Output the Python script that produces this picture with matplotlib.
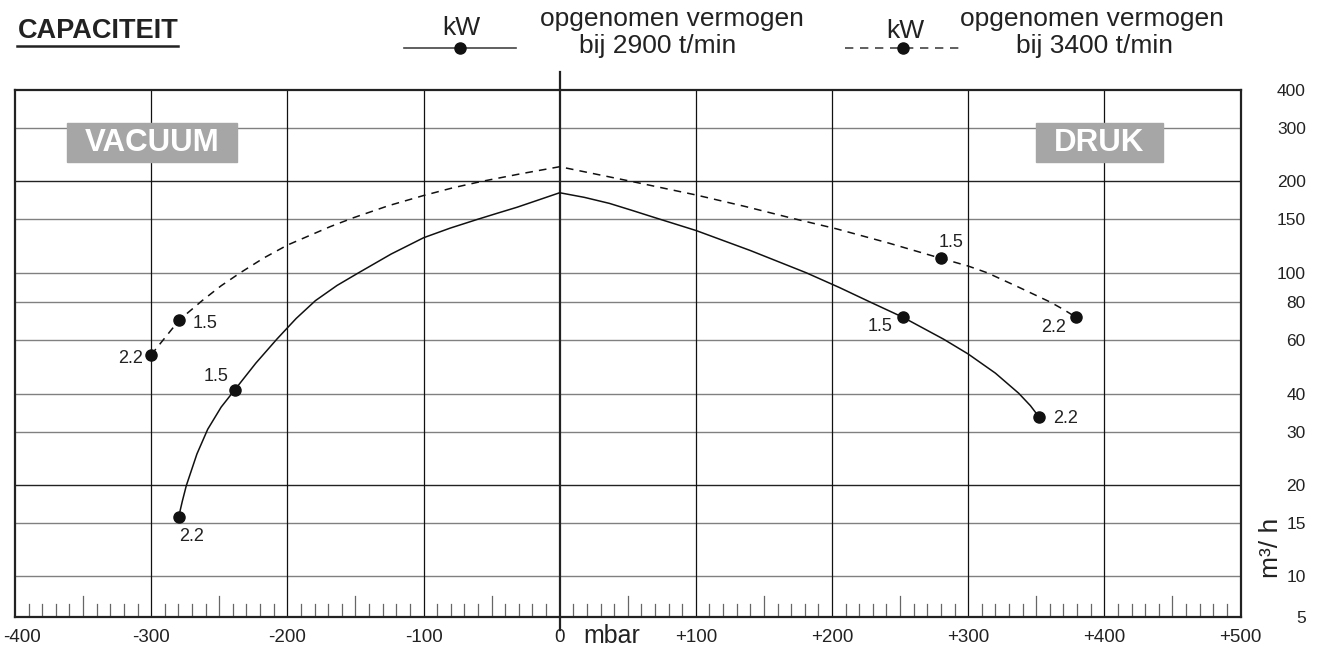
import numpy as np
import matplotlib
matplotlib.use("Agg")
import matplotlib.pyplot as plt
from matplotlib.lines import Line2D
from matplotlib.patches import Rectangle
from matplotlib.ticker import NullLocator
from matplotlib.transforms import ScaledTranslation

plt.rcParams['font.family'] = ['Liberation Sans', 'DejaVu Sans']

# curves: pressure (mbar) vs capacity (m3/h)
x_2900 = [-279.8, -277.1, -274.2, -266.4, -258.5, -248.6, -238.7, -223.1, -207.6,
          -193.5, -179.4, -163.5, -147.6, -123.8, -99.9, -80.3, -60.7, -46.0, -31.3,
          -15.6, 0.0, 18.1, 36.5, 53.4, 69.6, 100.2, 140.1, 181.0, 205.4, 228.2,
          252.2, 282.0, 300.0, 320.0, 337.1, 345.7, 351.8]
y_2900 = [15.7, 17.7, 19.9, 25.3, 30.5, 36.1, 41.1, 50.4, 60.5,
          70.7, 80.9, 90.8, 100.0, 115.2, 130.4, 140.3, 149.7, 156.9, 164.3,
          173.6, 183.4, 177.1, 169.2, 160.3, 152.0, 137.7, 118.3, 100.0, 89.4, 80.0,
          71.3, 60.4, 54.0, 46.7, 40.1, 36.5, 33.6]

x_3400 = [-300.1, -279.3, -262.6, -248.6, -234.5, -217.2, -199.8, -168.4, -151.3,
          -125.6, -99.9, -78.4, -57.0, -28.5, 0.0, 52.4, 100.2, 136.4, 171.1, 203.0,
          241.4, 280.1, 300.0, 313.9, 336.9, 360.4, 370.2, 379.3]
y_3400 = [53.6, 69.9, 80.9, 90.6, 100.0, 111.9, 123.4, 141.9, 151.8,
          166.3, 179.6, 190.4, 200.0, 211.8, 223.4, 200.0, 180.3, 165.2, 151.0, 139.6,
          125.3, 111.5, 105.2, 100.0, 89.7, 80.0, 75.6, 71.3]

# motor power points (kW)
pt_2900_x = [-279.8, -238.7, 252.2, 351.8]
pt_2900_y = [15.7, 41.1, 71.3, 33.6]
pt_2900_lab = ['2.2', '1.5', '1.5', '2.2']
pt_3400_x = [-300.1, -279.3, 280.1, 379.3]
pt_3400_y = [53.6, 69.9, 111.5, 71.3]
pt_3400_lab = ['2.2', '1.5', '1.5', '2.2']

x_ticks = [-400, -300, -200, -100, 0, 100, 200, 300, 400, 500]
x_labels = ['-400', '-300', '-200', '-100', '0', '+100', '+200', '+300', '+400', '+500']
y_grid = [300, 200, 150, 100, 80, 60, 40, 30, 20, 15, 10]
y_dark = [200, 20]
y_ticks = [400, 300, 200, 150, 100, 80, 60, 40, 30, 20, 15, 10, 7.35]
y_labels = ['400', '300', '200', '150', '100', '80', '60', '40', '30', '20', '15', '10', '5']

W, H = 1332, 664
fig = plt.figure(figsize=(W / 100, H / 100), dpi=100)


def fx(px):
    return px / W


def fy(py):
    return 1 - py / H


ax = fig.add_axes([fx(15), fy(617), fx(1240.5) - fx(15), fy(89.9) - fy(617)])
ax.set_xlim(-400, 500)
ax.set_yscale('log')
ax.set_ylim(7.35, 400)

for s in ax.spines.values():
    s.set_linewidth(1.6)
    s.set_color('#222222')

# grid
for v in y_grid:
    ax.axhline(v, color='#222222' if v in y_dark else '#808080', lw=1.0, zorder=1)
for v in x_ticks[1:-1]:
    if v != 0:
        ax.axvline(v, color='#111111', lw=0.9, zorder=1)
ax.axvline(0, ymin=-0.025, ymax=1.034, color='#222222', lw=1.6, clip_on=False, zorder=2)

# small scale ticks along the bottom
xt = ax.get_xaxis_transform()
for v in range(-390, 500, 10):
    if v % 100 == 0:
        continue
    h = 0.040 if v % 50 == 0 else 0.025
    ax.plot([v, v], [0, h], transform=xt, color='#666666', lw=0.9, zorder=1)

ax.set_xticks(x_ticks)
ax.set_xticklabels(x_labels)
ax.tick_params(axis='x', length=0, pad=9, labelsize=13.5, labelcolor='#222222')
lab0 = ax.get_xticklabels()[0]
lab0.set_transform(lab0.get_transform() + ScaledTranslation(0.07, 0, fig.dpi_scale_trans))

ax.yaxis.tick_right()
ax.yaxis.set_minor_locator(NullLocator())
ax.set_yticks(y_ticks)
ax.set_yticklabels(y_labels, ha='right')
ax.tick_params(axis='y', length=0, pad=47, labelsize=12.5, labelcolor='#222222')

# curves
ax.plot(x_2900, y_2900, color='#111111', lw=1.1, zorder=4)
ax.plot(x_3400, y_3400, color='#111111', lw=1.1, ls=(0, (5, 4)), zorder=4)
ax.plot(pt_2900_x, pt_2900_y, 'o', color='#111111', ms=8, zorder=5)
ax.plot(pt_3400_x, pt_3400_y, 'o', color='#111111', ms=8, zorder=5)

off_2900 = [(9.4, -14.4), (-13.7, 9.4), (-16.3, -6.8), (19.2, -1.2)]
off_3400 = [(-15.0, -2.2), (18.7, -2.2), (7.2, 11.5), (-16.1, -7.2)]
for x, y, t, o in zip(pt_2900_x, pt_2900_y, pt_2900_lab, off_2900):
    ax.annotate(t, (x, y), xytext=o, textcoords='offset points', ha='center', va='center',
                fontsize=13, color='#222222')
for x, y, t, o in zip(pt_3400_x, pt_3400_y, pt_3400_lab, off_3400):
    ax.annotate(t, (x, y), xytext=o, textcoords='offset points', ha='center', va='center',
                fontsize=13, color='#222222')

# grey VACUUM / DRUK boxes
for x0, x1, txt in [(67, 237, 'VACUUM'), (1036, 1163, 'DRUK')]:
    fig.add_artist(Rectangle((fx(x0), fy(162)), fx(x1) - fx(x0), fy(123) - fy(162),
                             transform=fig.transFigure, color='#a6a6a6', zorder=3))
    fig.text(fx((x0 + x1) / 2), fy(143), txt, ha='center', va='center', color='white',
             fontsize=22.5, fontweight='bold', zorder=4)

# header
fig.text(fx(18), fy(31), 'CAPACITEIT', ha='left', va='center', fontsize=19.5, fontweight='bold',
         color='#222222')
fig.add_artist(Line2D([fx(17), fx(178)], [fy(46), fy(46)], transform=fig.transFigure,
                      color='#222222', lw=1.8))

fig.add_artist(Line2D([fx(404), fx(516)], [fy(48), fy(48)], transform=fig.transFigure,
                      color='#444444', lw=1.2))
fig.add_artist(Line2D([fx(460)], [fy(48)], transform=fig.transFigure, marker='o', ms=8,
                      color='#111111'))
fig.text(fx(461), fy(28), 'kW', ha='center', va='center', fontsize=19, color='#222222')
fig.text(fx(672), fy(19), 'opgenomen vermogen', ha='center', va='center', fontsize=19,
         color='#222222')
fig.text(fx(658), fy(46), 'bij 2900 t/min', ha='center', va='center', fontsize=19,
         color='#222222')

fig.add_artist(Line2D([fx(845), fx(960)], [fy(48), fy(48)], transform=fig.transFigure,
                      color='#444444', lw=1.2, ls=(0, (5, 4))))
fig.add_artist(Line2D([fx(903)], [fy(48)], transform=fig.transFigure, marker='o', ms=8,
                      color='#111111'))
fig.text(fx(905), fy(31), 'kW', ha='center', va='center', fontsize=19, color='#222222')
fig.text(fx(1092), fy(19), 'opgenomen vermogen', ha='center', va='center', fontsize=19,
         color='#222222')
fig.text(fx(1095), fy(46), 'bij 3400 t/min', ha='center', va='center', fontsize=19,
         color='#222222')

# axis units
fig.text(fx(612), fy(636), 'mbar', ha='center', va='center', fontsize=18, color='#222222')
fig.text(fx(1271), fy(548), 'm³/ h', ha='center', va='center', rotation=90, fontsize=19,
         color='#222222')

fig.savefig('out.png', dpi=100)
